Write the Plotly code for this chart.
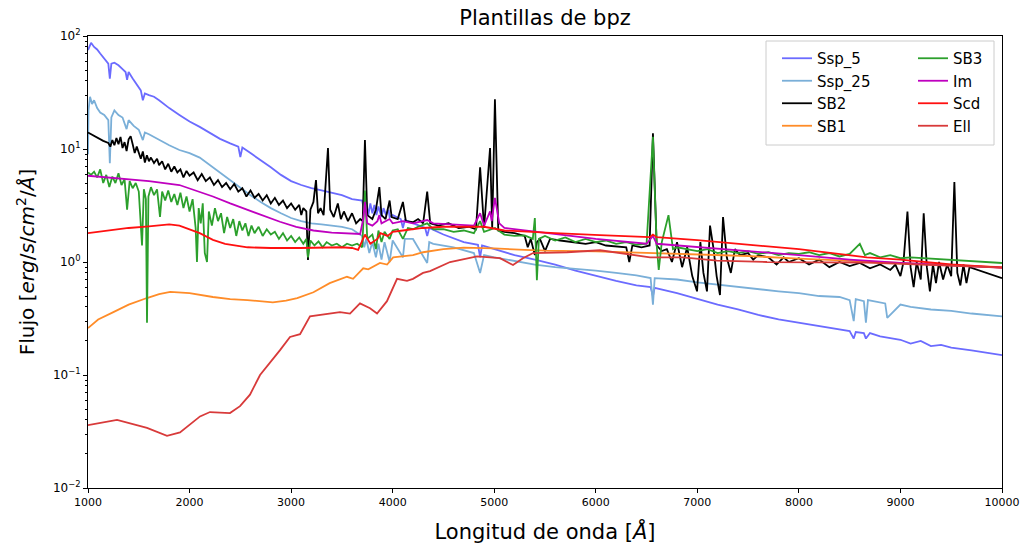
import plotly.graph_objects as go

# ---------------- data ----------------
ssp5_wl = [1000, 1030, 1060, 1090, 1120, 1160, 1200, 1215, 1230, 1260, 1300, 1340, 1370, 1385, 1400,
           1440, 1480, 1520, 1540, 1560, 1600, 1650, 1700, 1800, 1900, 2000, 2100, 2200, 2300, 2400,
           2480, 2500, 2520, 2600, 2700, 2800, 2900, 3000, 3100, 3200, 3300, 3400, 3500, 3600, 3700,
           3720, 3740, 3760, 3780, 3800, 3820, 3840, 3860, 3890, 3910, 3935, 3960, 3970, 4000, 4080,
           4101, 4120, 4200, 4320, 4340, 4360, 4500, 4700, 4840, 4861, 4880, 5000, 5200, 5400, 5600,
           5800, 6000, 6200, 6400, 6540, 6563, 6580, 6800, 7000, 7200, 7400, 7600, 7800, 8000, 8200,
           8500, 8540, 8560, 8640, 8660, 8700, 8800, 9000, 9100, 9200, 9300, 9400, 9500, 9700, 10000]
ssp5_fx = [75, 87, 80, 76, 70, 63, 57, 42, 57, 58, 55, 51, 48, 41, 48,
           42, 37, 33, 27, 31, 30, 29, 27, 23, 20, 17.5, 15.7, 13.8, 12.3, 11.2,
           10.5, 8.5, 10.3, 9.2, 8.0, 6.9, 5.9, 5.2, 4.8, 4.5, 4.3, 4.1, 3.9, 3.6, 3.5,
           2.8, 3.4, 2.6, 3.3, 2.7, 3.2, 2.6, 3.1, 2.5, 3.0, 2.6, 2.9, 2.5, 2.6, 2.4,
           2.0, 2.35, 2.2, 2.0, 1.7, 2.0, 1.75, 1.5, 1.42, 1.1, 1.4, 1.3, 1.15, 1.05, 0.95,
           0.84, 0.75, 0.68, 0.62, 0.6, 0.5, 0.59, 0.53, 0.47, 0.42, 0.38, 0.34, 0.31, 0.29, 0.27,
           0.245, 0.21, 0.24, 0.235, 0.21, 0.235, 0.22, 0.205, 0.19, 0.2, 0.18, 0.185, 0.175, 0.165, 0.15]

ssp25_wl = [1000, 1005, 1020, 1040, 1060, 1090, 1120, 1160, 1200, 1215, 1230, 1260, 1300, 1340, 1380,
            1400, 1450, 1500, 1540, 1560, 1600, 1700, 1800, 1900, 2000, 2100, 2200, 2300, 2400, 2500,
            2600, 2700, 2800, 2900, 3000, 3100, 3200, 3300, 3400, 3500, 3600, 3700, 3720, 3740, 3770,
            3800, 3835, 3860, 3890, 3920, 3970, 4000, 4101, 4120, 4200, 4340, 4360, 4400, 4600, 4800,
            4861, 4900, 5000, 5200, 5400, 5600, 5800, 6000, 6200, 6400, 6540, 6563, 6580, 6800, 7000,
            7200, 7400, 7600, 7800, 8000, 8200, 8400, 8500, 8540, 8560, 8640, 8660, 8680, 8800, 8850,
            8870, 9000, 9100, 9200, 9300, 9500, 9700, 10000]
ssp25_fx = [9, 22, 29, 25, 27, 23, 21, 20, 18, 7.5, 19, 22, 20, 19, 15,
            18, 16, 14.8, 12, 14, 13.5, 12, 10.8, 9.8, 9.2, 8.4, 7.2, 6.2, 5.3, 4.6,
            3.9, 3.4, 3.0, 2.7, 2.45, 2.3, 2.2, 2.15, 2.1, 2.05, 1.95, 1.7, 1.35, 1.6, 1.2,
            1.5, 1.1, 1.45, 1.05, 1.5, 1.0, 1.55, 1.1, 1.6, 1.6, 0.98, 1.5, 1.45, 1.35, 1.2,
            0.8, 1.15, 1.1, 1.02, 0.95, 0.9, 0.87, 0.84, 0.8, 0.76, 0.72, 0.42, 0.72, 0.7, 0.66,
            0.63, 0.6, 0.57, 0.55, 0.53, 0.5, 0.49, 0.46, 0.3, 0.47, 0.45, 0.29, 0.46, 0.44, 0.43,
            0.32, 0.42, 0.4, 0.39, 0.38, 0.37, 0.35, 0.33]

sb2_wl = [1000, 1050, 1100, 1150, 1200, 1220, 1240, 1260, 1280, 1300, 1320, 1340, 1360, 1380, 1400,
          1420, 1440, 1460, 1480, 1500, 1520, 1540, 1560, 1580, 1600, 1620, 1650, 1680, 1700, 1730,
          1760, 1790, 1820, 1850, 1880, 1910, 1940, 1970, 2000, 2040, 2080, 2120, 2160, 2200, 2240,
          2280, 2320, 2360, 2400, 2440, 2480, 2520, 2560, 2600, 2640, 2680, 2720, 2760, 2800, 2840,
          2880, 2920, 2960, 3000, 3040, 3080, 3100, 3120, 3150, 3166, 3190, 3220, 3245, 3265, 3290,
          3320, 3363, 3385, 3420, 3460, 3490, 3520, 3560, 3600, 3640, 3680, 3705, 3727, 3750, 3800,
          3835, 3869, 3890, 3930, 3970, 3990, 4050, 4101, 4130, 4200, 4250, 4300, 4340, 4370, 4450,
          4550, 4650, 4750, 4820, 4861, 4900, 4959, 4980, 5007, 5040, 5100, 5200, 5300, 5330, 5360,
          5400, 5420, 5450, 5500, 5550, 5650, 5800, 5900, 6000, 6100, 6300, 6330, 6360, 6450, 6530,
          6563, 6600, 6650, 6700, 6750, 6800, 6850, 6900, 6950, 6997, 7030, 7060, 7095, 7125, 7160,
          7190, 7223, 7253, 7290, 7330, 7370, 7420, 7500, 7550, 7600, 7700, 7780, 7850, 7900, 8000,
          8100, 8200, 8300, 8400, 8500, 8600, 8700, 8800, 8900, 8950, 9000, 9030, 9069, 9100, 9130,
          9160, 9200, 9229, 9260, 9290, 9320, 9350, 9380, 9420, 9460, 9500, 9531, 9560, 9590, 9620,
          9650, 9680, 10000]
sb2_fx = [14, 13.2, 12.4, 11.8, 11.3, 10.5, 12, 10.8, 12.5, 11, 12.8, 10.2, 11.5, 9.6, 12.2,
          13, 11, 9.2, 10.5, 9.4, 8.2, 9.5, 7.6, 8.8, 7.8, 8.4, 7.5, 8.2, 7.2, 7.8,
          6.6, 7.4, 6.3, 7.0, 6.2, 6.6, 5.6, 6.4, 5.8, 6.2, 5.3, 6.0, 5.2, 5.6, 4.8,
          5.3, 4.6, 5.0, 4.4, 4.9, 4.2, 4.5, 3.8, 4.3, 3.7, 4.0, 3.5, 3.9, 3.3, 3.7,
          3.2, 3.5, 3.0, 3.3, 2.9, 3.2, 2.6, 3.0, 2.8, 1.04, 2.9, 3.4, 5.3, 2.7, 3.0,
          2.6, 10.2, 2.9, 2.5, 3.3, 2.4, 2.8, 2.3, 2.7, 2.2, 2.4, 2.3, 12, 2.6, 2.4,
          2.9, 4.6, 2.6, 2.4, 3.5, 2.5, 2.4, 3.4, 2.3, 2.25, 2.4, 2.2, 4.2, 2.2, 2.1,
          2.2, 2.0, 2.05, 1.95, 6.9, 2.0, 10.2, 2.0, 27.5, 1.9, 1.85, 1.8, 1.7, 1.35, 1.6,
          1.15, 1.5, 1.6, 1.25, 1.6, 1.55, 1.5, 1.45, 1.5, 1.4, 1.35, 1.0, 1.4, 1.35, 1.4,
          13.8, 1.4, 1.25, 1.3, 1.0, 1.5, 0.9, 1.35, 0.75, 0.55, 1.5, 0.8, 0.55, 2.1, 1.3,
          0.75, 0.51, 2.5, 1.1, 0.8, 1.3, 1.15, 1.2, 1.05, 1.15, 1.1, 0.95, 1.1, 1.0, 1.08,
          0.95, 1.05, 0.9, 1.0, 0.92, 0.98, 0.88, 0.95, 0.85, 0.95, 0.75, 1.0, 2.8, 0.9, 0.6,
          1.0, 0.7, 2.7, 0.9, 0.55, 0.95, 0.65, 1.0, 0.7, 0.95, 0.75, 5.1, 0.8, 0.62, 0.95,
          0.65, 0.9, 0.72]

sb1_wl = [1000, 1100, 1250, 1400, 1580, 1700, 1810, 1900, 2000, 2230, 2400, 2570, 2820, 2950, 3060,
          3220, 3380, 3550, 3610, 3710, 3760, 3875, 3945, 4005, 4200, 4300, 4500, 4700, 5000, 5300,
          5500, 6000, 6500, 7000, 7500, 8000, 8500, 9000, 9500, 10000]
sb1_fx = [0.26, 0.31, 0.36, 0.42, 0.48, 0.52, 0.545, 0.54, 0.53, 0.49, 0.47, 0.46, 0.44, 0.455, 0.48,
          0.54, 0.65, 0.74, 0.71, 0.88, 0.86, 0.98, 0.95, 1.1, 1.15, 1.22, 1.3, 1.34, 1.32, 1.28,
          1.26, 1.24, 1.2, 1.17, 1.13, 1.07, 1.02, 0.98, 0.94, 0.9]

sb3_wl = [1000, 1030, 1060, 1090, 1120, 1150, 1180, 1210, 1240, 1270, 1300, 1330, 1360, 1385, 1410,
          1440, 1470, 1500, 1532, 1550, 1570, 1581, 1595, 1620, 1650, 1680, 1709, 1730, 1760, 1790,
          1820, 1850, 1880, 1910, 1940, 1970, 2000, 2030, 2060, 2073, 2090, 2110, 2130, 2150, 2172,
          2190, 2220, 2250, 2280, 2310, 2340, 2370, 2400, 2430, 2460, 2490, 2520, 2550, 2580, 2610,
          2640, 2680, 2720, 2760, 2800, 2840, 2880, 2920, 2960, 3000, 3040, 3080, 3120, 3150, 3166,
          3190, 3230, 3270, 3310, 3350, 3400, 3450, 3500, 3550, 3600, 3650, 3700, 3727, 3750, 3800,
          3835, 3860, 3890, 3920, 3970, 4000, 4050, 4101, 4150, 4200, 4250, 4340, 4400, 4500, 4600,
          4700, 4800, 4861, 4900, 5007, 5100, 5200, 5300, 5380, 5400, 5420, 5440, 5500, 5600, 5700,
          5800, 5900, 6000, 6100, 6200, 6300, 6400, 6500, 6563, 6600, 6620, 6650, 6716, 6760, 6800,
          6900, 7000, 7100, 7200, 7300, 7400, 7500, 7600, 7700, 7800, 7900, 8000, 8100, 8200, 8300,
          8400, 8500, 8600, 8650, 8700, 8800, 8900, 9000, 9100, 10000]
sb3_fx = [6.2, 5.9, 6.3, 5.6, 6.6, 5.0, 5.9, 4.6, 5.7, 5.0, 6.1, 4.8, 5.4, 2.9, 5.2,
          4.5, 5.0, 4.2, 1.4, 4.4, 3.6, 0.29, 3.8, 4.6, 3.9, 4.4, 2.5, 4.2, 3.5, 4.3,
          3.4, 4.0, 3.2, 4.1, 3.0, 3.8, 2.8, 3.6, 2.0, 1.0, 3.0, 2.2, 3.3, 1.2, 1.0,
          2.8, 2.1, 3.0, 2.3, 2.7, 1.8, 2.5, 2.0, 2.4, 1.7, 2.3, 1.9, 2.2, 1.7, 2.1,
          1.8, 2.05, 1.7, 1.95, 1.75, 1.85, 1.6, 1.8, 1.55, 1.7, 1.5, 1.65, 1.45, 1.6, 1.1,
          1.55, 1.4, 1.52, 1.35, 1.5, 1.4, 1.45, 1.35, 1.45, 1.4, 1.45, 1.35, 4.3, 1.6, 1.75,
          1.3, 1.9, 1.5, 1.85, 1.6, 1.9, 1.95, 1.6, 2.0, 1.95, 2.05, 2.2, 1.95, 1.95, 1.85,
          1.9, 1.8, 2.3, 1.85, 2.0, 1.75, 1.7, 1.72, 1.6, 2.45, 0.69, 1.6, 1.7, 1.55, 1.65,
          1.5, 1.6, 1.5, 1.55, 1.45, 1.5, 1.42, 1.45, 12.8, 1.4, 0.85, 1.5, 2.6, 1.3, 1.35,
          1.3, 1.25, 1.3, 1.2, 1.25, 1.2, 1.25, 1.18, 1.22, 1.15, 1.2, 1.18, 1.22, 1.15, 1.2,
          1.12, 1.18, 1.45, 1.15, 1.2, 1.1, 1.15, 1.08, 1.1, 0.98]

im_wl = [1000, 1300, 1600, 1900, 2100, 2230, 2400, 2570, 2750, 2890, 3050, 3220, 3400, 3550, 3680,
         3710, 3727, 3750, 3800, 3850, 3869, 3890, 3970, 4000, 4101, 4200, 4340, 4400, 4600, 4800,
         4861, 4900, 4959, 4975, 5007, 5050, 5100, 5300, 5500, 6000, 6500, 6563, 6600, 7000, 7500,
         8000, 8500, 9000, 9500, 10000]
im_fx = [5.8, 5.5, 5.2, 4.8, 4.2, 3.8, 3.3, 2.9, 2.5, 2.27, 2.05, 1.9, 1.82, 1.8, 1.77,
         2.4, 3.4, 2.2, 2.1, 2.3, 2.6, 2.2, 2.4, 2.2, 2.3, 2.2, 2.35, 2.2, 2.15, 2.1,
         2.7, 2.1, 2.8, 2.3, 3.7, 2.2, 2.0, 1.9, 1.8, 1.6, 1.45, 1.7, 1.45, 1.35, 1.25,
         1.15, 1.05, 0.98, 0.93, 0.89]

scd_wl = [1000, 1200, 1400, 1600, 1800, 1900, 2000, 2100, 2230, 2350, 2570, 2800, 3090, 3300, 3500,
          3600, 3660, 3727, 3780, 3850, 3880, 3950, 4000, 4100, 4300, 4500, 4700, 4900, 5100, 5380,
          5600, 6040, 6530, 6563, 6600, 7000, 7350, 8000, 8670, 9000, 9500, 10000]
scd_fx = [1.8, 1.9, 2.0, 2.07, 2.15, 2.1, 1.95, 1.8, 1.57, 1.45, 1.35, 1.33, 1.33, 1.34, 1.35,
          1.33, 1.28, 1.75, 1.45, 1.6, 1.8, 1.7, 1.85, 1.9, 2.0, 2.05, 2.05, 2.05, 1.9, 1.83,
          1.8, 1.73, 1.66, 1.75, 1.66, 1.56, 1.47, 1.3, 1.1, 1.05, 0.95, 0.89]

ell_wl = [1000, 1286, 1581, 1778, 1906, 2103, 2201, 2398, 2497, 2595, 2694, 2792, 2891, 2989, 3088,
          3186, 3285, 3481, 3580, 3678, 3777, 3846, 3944, 4043, 4141, 4200, 4299, 4368, 4565, 4830,
          5057, 5185, 5283, 5382, 5717, 6042, 6534, 6859, 7194, 7686, 8671, 10000]
ell_fx = [0.036, 0.040, 0.034, 0.029, 0.031, 0.043, 0.047, 0.046, 0.053, 0.067, 0.10, 0.128, 0.166, 0.217, 0.23,
          0.33, 0.34, 0.36, 0.35, 0.43, 0.39, 0.35, 0.45, 0.71, 0.68, 0.71, 0.8, 0.83, 1.0, 1.12,
          1.08, 0.94, 1.08, 1.2, 1.22, 1.27, 1.1, 1.1, 1.03, 1.0, 0.99, 0.89]

x_ticks = [1000, 2000, 3000, 4000, 5000, 6000, 7000, 8000, 9000, 10000]
x_ticktext = ["1000", "2000", "3000", "4000", "5000", "6000", "7000", "8000", "9000", "10000"]
y_ticks = [0.01, 0.1, 1, 10, 100]
y_ticktext = ["10<sup>\u22122</sup>", "10<sup>\u22121</sup>", "10<sup>0</sup>", "10<sup>1</sup>", "10<sup>2</sup>"]

# ---------------- figure ----------------
# (name, wavelengths, flux, colour, legend column)
series = [
    ("Ssp_5", ssp5_wl, ssp5_fx, "#6b6bff", "legend"),
    ("Ssp_25", ssp25_wl, ssp25_fx, "#7aafd8", "legend"),
    ("SB2", sb2_wl, sb2_fx, "#000000", "legend"),
    ("SB1", sb1_wl, sb1_fx, "#ff8c28", "legend"),
    ("SB3", sb3_wl, sb3_fx, "#2ca02c", "legend2"),
    ("Im", im_wl, im_fx, "#bf00bf", "legend2"),
    ("Scd", scd_wl, scd_fx, "#ff1010", "legend2"),
    ("Ell", ell_wl, ell_fx, "#d83a3a", "legend2"),
]

fig = go.Figure()
for name, wl, fx, color, leg in series:
    fig.add_trace(go.Scatter(x=wl, y=fx, mode="lines", name=name, legend=leg,
                             line=dict(color=color, width=1.8)))

minor_vals = [m * 10 ** e for e in range(-2, 2) for m in range(2, 10)]

# plot area in pixels: x 88..1002, y 36..488
PX0, PX1, PY0, PY1 = 88, 1002, 36, 488
def px_x(p):
    return (p - PX0) / (PX1 - PX0)
def px_y(p):
    return (PY1 - p) / (PY1 - PY0)

leg_common = dict(orientation="v", yanchor="top", xanchor="left", traceorder="normal",
                  font=dict(size=15, family="DejaVu Sans"), bgcolor="rgba(0,0,0,0)",
                  borderwidth=0, itemwidth=30, tracegroupgap=0)

fig.update_layout(
    width=1026, height=550,
    margin=dict(l=PX0, r=1026 - PX1, t=PY0, b=550 - PY1, autoexpand=False),
    paper_bgcolor="white", plot_bgcolor="white",
    font=dict(family="DejaVu Sans", color="black", size=11),
    title=dict(text="Plantillas de bpz", x=545 / 1026, xanchor="center", y=1 - 18 / 550,
               yanchor="middle", font=dict(size=21, family="DejaVu Sans")),
    showlegend=True,
    legend=dict(x=px_x(777), y=px_y(42), **leg_common),
    legend2=dict(x=px_x(913), y=px_y(42), **leg_common),
    shapes=[dict(type="rect", xref="paper", yref="paper",
                 x0=px_x(766), x1=px_x(994), y0=px_y(145), y1=px_y(41),
                 line=dict(color="#cccccc", width=1), fillcolor="rgba(255,255,255,0.8)",
                 layer="below")],
    xaxis=dict(range=[1000, 10000], tickmode="array", tickvals=x_ticks, ticktext=x_ticktext,
               automargin=False,
               showline=True, linecolor="black", linewidth=1, mirror=True,
               ticks="outside", ticklen=4, tickcolor="black", showgrid=False, zeroline=False,
               title=dict(text="Longitud de onda [<i>Å</i>]", font=dict(size=21), standoff=16),
               tickfont=dict(size=11)),
    yaxis=dict(type="log", range=[-2, 2], tickmode="array", tickvals=y_ticks, ticktext=y_ticktext,
               automargin=False,
               showline=True, linecolor="black", linewidth=1, mirror=True,
               ticks="outside", ticklen=4, tickcolor="black", showgrid=False, zeroline=False,
               minor=dict(tickmode="array", tickvals=minor_vals, ticks="outside", ticklen=2,
                          tickcolor="black", showgrid=False),
               title=dict(text="Flujo [<i>erg</i>/<i>s</i>/<i>cm</i><sup>2</sup>/<i>Å</i>]",
                          font=dict(size=20), standoff=12),
               tickfont=dict(size=12)),
)

fig.write_html("out.html")
